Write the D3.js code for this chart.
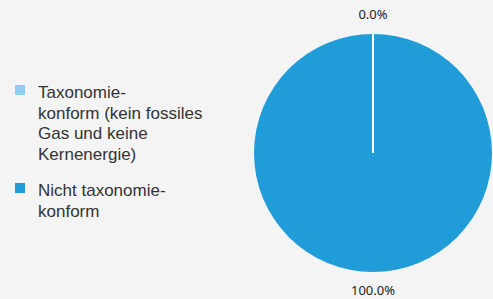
<!DOCTYPE html>
<html>
<head>
<meta charset="utf-8">
<script src="https://cdn.jsdelivr.net/npm/d3@7"></script>
<style>
  html, body { margin: 0; padding: 0; background: #f4f4f4; }
</style>
</head>
<body>
<svg id="chart" width="493" height="299"></svg>
<script>
var categories = ['Taxonomiekonform', 'Nicht taxonomiekonform'];
var legendLines = [
  ['Taxonomie-', 'konform (kein fossiles', 'Gas und keine', 'Kernenergie)'],
  ['Nicht taxonomie-', 'konform']
];
var values = [0.0, 100.0];
var colours = ['#8ecfef', '#209cd8'];

var WIDTH = 493, HEIGHT = 299;
var CX = 373, CY = 153, R = 119;
var LINE_H = 20.5;

var svg = d3.select('#chart');
svg.append('rect').attr('width', WIDTH).attr('height', HEIGHT).attr('fill', '#f4f4f4');

var colour = d3.scaleOrdinal().domain(categories).range(colours);

var pie = d3.pie().sort(null).value(function(d) { return d; });
var arc = d3.arc().innerRadius(0).outerRadius(R);
var arcs = pie(values);

var g = svg.append('g').attr('transform', 'translate(' + CX + ',' + CY + ')');
g.selectAll('path.slice')
  .data(arcs)
  .enter().append('path')
  .attr('class', 'slice')
  .attr('d', arc)
  .attr('fill', function(d, i) { return colour(categories[i]); });

// white separators at the slice borders
g.selectAll('line.sep')
  .data(arcs)
  .enter().append('line')
  .attr('class', 'sep')
  .attr('x1', 0).attr('y1', 0)
  .attr('x2', function(d) { return d3.pointRadial(d.startAngle, R)[0]; })
  .attr('y2', function(d) { return d3.pointRadial(d.startAngle, R)[1]; })
  .attr('stroke', '#ffffff')
  .attr('stroke-width', 2);

// percentage labels, 0% sits above, 100% below
var labelY = [-137, 139];
g.selectAll('text.pct')
  .data(arcs)
  .enter().append('text')
  .attr('class', 'pct')
  .attr('x', 0)
  .attr('y', function(d, i) { return labelY[i]; })
  .attr('text-anchor', 'middle')
  .attr('dominant-baseline', 'middle')
  .style('font-family', '"Noto Sans", sans-serif')
  .style('font-size', '13px')
  .style('fill', '#222')
  .text(function(d) { return d3.format('.1f')(d.data) + '%'; });

// legend
var legend = svg.append('g');
var itemY = [98, 196];
var items = legend.selectAll('g.item')
  .data(categories)
  .enter().append('g')
  .attr('class', 'item')
  .attr('transform', function(d, i) { return 'translate(0,' + itemY[i] + ')'; });

items.append('rect')
  .attr('x', 15).attr('y', -13)
  .attr('width', 10).attr('height', 10)
  .attr('fill', function(d) { return colour(d); });

items.append('text')
  .style('font-family', '"Liberation Sans", Arial, sans-serif')
  .style('font-size', '17px')
  .style('fill', '#333')
  .selectAll('tspan')
  .data(function(d, i) { return legendLines[i]; })
  .enter().append('tspan')
  .attr('x', 38)
  .attr('y', function(d, j) { return j * LINE_H; })
  .text(function(d) { return d; });
</script>
</body>
</html>
